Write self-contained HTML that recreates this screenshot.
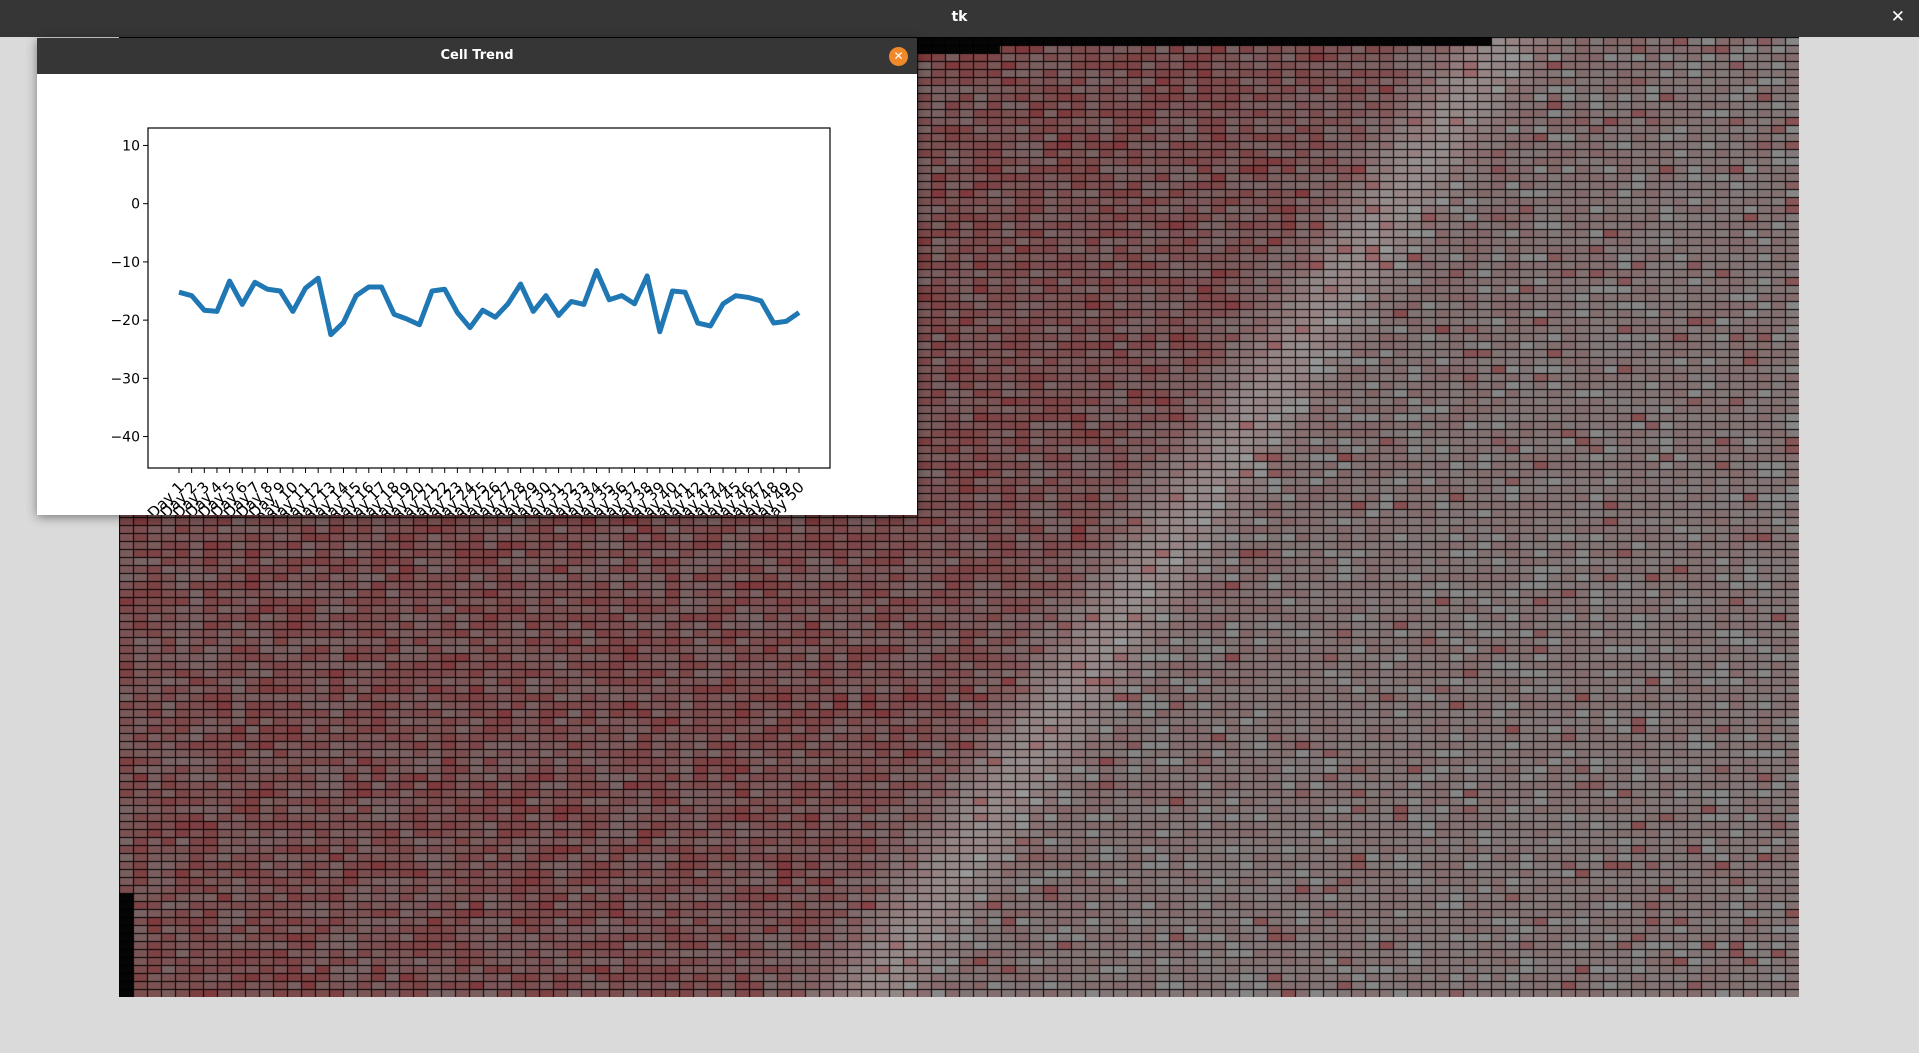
<!DOCTYPE html>
<html><head><meta charset="utf-8"><style>
html,body{margin:0;padding:0;width:1919px;height:1053px;overflow:hidden;background:#dadada;font-family:"DejaVu Sans","Liberation Sans",sans-serif}
#topbar{position:absolute;left:0;top:0;width:1919px;height:37px;background:#363636;color:#fff}
#topbar .t{position:absolute;left:0;width:100%;top:9px;text-align:center;font-size:14px;font-weight:bold}
#topbar .x{position:absolute;right:14px;top:7px;font-size:17px;font-weight:bold}
#heat{position:absolute;left:119px;top:37px}
#dlg{position:absolute;left:37px;top:38px;width:880px;height:477px;background:#fff;box-shadow:0 2px 10px rgba(0,0,0,.45);overflow:hidden}
#dlgbar{position:absolute;left:0;top:0;width:880px;height:36px;background:#363636;color:#fff}
#dlgbar .t{position:absolute;width:100%;top:10px;text-align:center;font-size:13px;font-weight:bold}
#dlgbar .c{position:absolute;left:852px;top:9px;width:19px;height:19px;border-radius:50%;background:#f0892a;color:#fff;font-size:12px;font-weight:bold;text-align:center;line-height:19px}
svg text{font-family:"DejaVu Sans",sans-serif;font-size:14px;fill:#000}
</style></head><body>
<div id="topbar"><div class="t">tk</div><div class="x">✕</div></div>
<canvas id="heat" width="1680" height="960"></canvas>
<div id="dlg">
<div id="dlgbar"><div class="t">Cell Trend</div><div class="c">✕</div></div>
<svg id="chart" width="880" height="477" style="position:absolute;left:0;top:0"></svg>
</div>
<script>
const categories=[];for(let i=1;i<=50;i++)categories.push("Day "+i);
const values=[-15.2,-15.8,-18.3,-18.5,-13.3,-17.3,-13.5,-14.7,-15,-18.5,-14.5,-12.8,-22.5,-20.4,-15.8,-14.3,-14.3,-19,-19.8,-20.8,-15,-14.7,-18.7,-21.3,-18.3,-19.5,-17.2,-13.8,-18.5,-15.8,-19.2,-16.8,-17.3,-11.5,-16.5,-15.8,-17.2,-12.4,-22,-15,-15.2,-20.5,-21,-17.2,-15.8,-16.1,-16.7,-20.5,-20.2,-18.7];
const yTicks=[10,0,-10,-20,-30,-40];
const yMin=-45.4,yMax=13.0;
const NS="http://www.w3.org/2000/svg";
const svg=document.getElementById('chart');
const L=111,T=90,R=793,B=430;
const xs=i=>L+(i+2.45)/(categories.length-1+4.9)*(R-L);
const ys=v=>T+(yMax-v)/(yMax-yMin)*(B-T);
function mk(tag,attrs){const e=document.createElementNS(NS,tag);for(const k in attrs)e.setAttribute(k,attrs[k]);svg.appendChild(e);return e;}
const frame=mk('rect',{x:L,y:T,width:R-L,height:B-T,fill:'none',stroke:'#000','stroke-width':1.2});


yTicks.forEach(v=>{
  const y=ys(v);
  const tk=mk('line',{x1:L-5,x2:L,y1:y,y2:y,stroke:'#000'});
  
  
  const t=mk('text',{x:L-8,y:y+5,'text-anchor':'end'});
  t.textContent=(v<0?'\u2212'+(-v):v);
  
  
});
categories.forEach((c,i)=>{
  const x=xs(i);
  const tk=mk('line',{x1:x,x2:x,y1:B,y2:B+5,stroke:'#000'});
  
  
  const t=mk('text',{x:x+6,y:B+20,'text-anchor':'end',transform:`rotate(-45 ${x+6} ${B+20})`,style:'font-size:15px'});
  t.textContent=c;
  
  
});
const line=mk('polyline',{points:values.map((v,i)=>xs(i)+','+ys(v)).join(' '),fill:'none',stroke:'#1f77b4','stroke-width':5,'stroke-linejoin':'round'});



// heatmap backdrop texture
const cv=document.getElementById('heat'),ctx=cv.getContext('2d');
let s=12345;const rnd=()=>{s=(s*1103515245+12345)%2147483648;return s/2147483648;};
const cw=14,ch=8;
for(let r=0;r<120;r++)for(let c=0;c<120;c++){
  const X=119+c*cw+7,Y=37+r*ch+4;
  const dx=881-1505,dy=997-49,len=Math.hypot(dx,dy);
  const d=((X-1505)*dy-(Y-49)*dx)/len;
  // smooth redness: strong on left, fading to right
  let red=0.75-0.45/(1+Math.exp(-d/60));
  let base=120+10/(1+Math.exp(-d/60));
  const band=Math.exp(-Math.pow((d+10)/45,2));
  base+=band*25;red*=1-0.55*band;
  let k=rnd();
  let amt=red*(0.4+0.8*k);
  if(rnd()<0.04)amt=Math.min(1,amt+0.45);
  let rr=base+amt*6,g=base-amt*62,b=base-amt*60;
  if(rnd()<0.12&&d>0){rr=g=b=base+5;}
  ctx.fillStyle=`rgb(${rr|0},${g|0},${b|0})`;
  ctx.fillRect(c*cw,r*ch,cw,ch);
}
ctx.fillStyle='#050505';
ctx.fillRect(0,0,1372,8);ctx.fillRect(0,8,881,8);ctx.fillRect(0,856,14,104);
ctx.strokeStyle='#000';ctx.lineWidth=1;ctx.beginPath();
for(let c=0;c<=120;c++){ctx.moveTo(c*cw+0.5,0);ctx.lineTo(c*cw+0.5,960);}
for(let r=0;r<=120;r++){ctx.moveTo(0,r*ch+0.5);ctx.lineTo(1680,r*ch+0.5);}
ctx.stroke();
</script>
</body></html>
